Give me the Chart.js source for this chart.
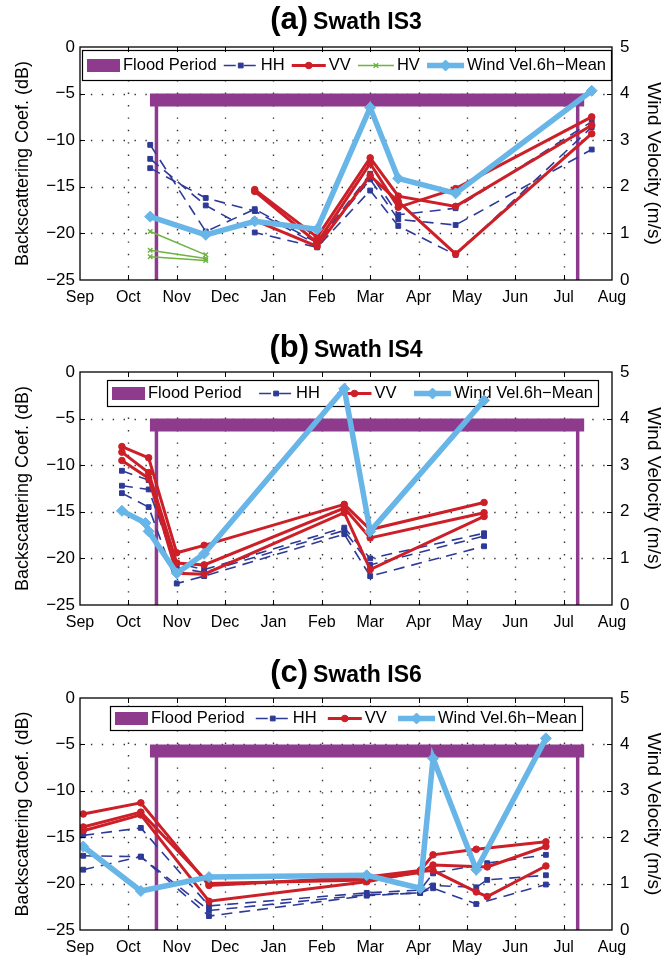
<!DOCTYPE html>
<html>
<head>
<meta charset="utf-8">
<script src="https://cdn.jsdelivr.net/npm/chart.js@4.4.1/dist/chart.umd.min.js"></script>
<style>
  html, body { margin: 0; padding: 0; background: #fff; }
  #wrap { position: relative; width: 668px; height: 958px; overflow: hidden; }
  canvas { position: absolute; left: 0; }
</style>
</head>
<body>
<div id="wrap">
  <canvas id="chartA" width="668" height="318" style="top:0px"></canvas>
  <canvas id="chartB" width="668" height="320" style="top:318px"></canvas>
  <canvas id="chartC" width="668" height="320" style="top:638px"></canvas>
</div>
<script>
// x axis: Sep 2008 .. Aug 2009, one unit per month
const months = ['Sep', 'Oct', 'Nov', 'Dec', 'Jan', 'Feb', 'Mar', 'Apr', 'May', 'Jun', 'Jul', 'Aug'];
const dbTicks = [-25, -20, -15, -10, -5, 0];
const windTicks = [0, 1, 2, 3, 4, 5];

// flood period, same in all three swaths
const floodDates = ['2008-10-19', '2009-07-10'];
const floodLevel = -5.7;

// ---- (a) Swath IS3 ----
const datesA = ['2008-10-15', '2008-11-19', '2008-12-20', '2009-01-29', '2009-03-01', '2009-03-19', '2009-04-24', '2009-07-19'];
const hhA = [
  [-10.5, -19.8, -17.4, -21.0, -13.6, -18.0, -17.3, -8.0],
  [-12.0, -17.0, -19.9, -21.5, -15.4, -19.2, -22.3, -8.6],
  [-13.0, -16.2, -17.6, -21.2, -14.2, -18.5, -19.1, -11.0]
];
const vvA = [
  [null, null, -15.3, -20.4, -11.9, -16.0, -17.1, -8.4],
  [null, null, -15.5, -21.0, -12.5, -17.2, -15.2, -7.5],
  [null, null, -18.6, -21.4, -13.8, -16.6, -22.2, -9.3]
];
const hvA = [
  [-19.8, -22.3, null, null, null, null, null, null],
  [-21.8, -22.7, null, null, null, null, null, null],
  [-22.5, -22.9, null, null, null, null, null, null]
];
const windA = [1.36, 0.97, 1.26, 1.09, 3.70, 2.18, 1.86, 4.06];

// ---- (b) Swath IS4 ----
const datesB = ['2008-09-27', '2008-10-12', '2008-10-14', '2008-11-01', '2008-11-18', '2009-02-14', '2009-03-01', '2009-05-12'];
const hhB = [
  [-10.6, null, -11.6, -20.5, -21.2, -16.7, -20.0, -17.3],
  [-12.2, null, -12.6, -21.0, -21.5, -17.0, -20.7, -17.6],
  [-13.0, null, -14.5, -22.7, -21.9, -17.4, -21.9, -18.7]
];
const vvB = [
  [-8.0, null, -9.2, -19.4, -18.6, -14.2, -16.9, -14.0],
  [-8.6, null, -10.8, -20.5, -20.7, -14.6, -17.8, -15.1],
  [-9.5, null, -11.4, -21.6, -21.7, -15.1, -21.2, -15.5]
];
const windB = [2.02, 1.76, 1.58, 0.68, 1.10, 4.64, 1.58, 4.39];

// ---- (c) Swath IS6 ----
const datesC = ['2008-09-03', '2008-10-09', '2008-11-21', '2009-02-27', '2009-04-02', '2009-04-10', '2009-05-07', '2009-05-14', '2009-06-20'];
const hhC = [
  [-14.8, -14.0, -22.4, -21.0, -20.7, -18.9, null, -17.8, -16.9],
  [-17.0, -17.1, -22.9, -21.2, -21.0, -20.2, -20.4, -19.6, -19.1],
  [-18.5, -17.1, -23.5, -21.3, -21.0, -20.5, -22.2, null, -20.1]
];
const vvC = [
  [-12.5, -11.3, -20.2, -19.3, -18.6, -16.9, -16.3, null, -15.5],
  [-13.9, -12.3, -20.0, -19.6, -18.8, -18.0, null, -18.2, -16.0],
  [-14.3, -12.6, -21.9, -19.8, -18.7, -18.6, -20.9, -21.4, -18.1]
];
const windC = [1.80, 0.84, 1.14, 1.18, 0.90, 3.70, 1.30, null, 4.13];

// colours
const PURPLE = '#8e3b8e';
const RED = '#cc1f27';
const BLUE = '#2e3a98';
const GREEN = '#6cb33f';
const SKY = '#68b5e8';

Chart.defaults.font.family = "'Liberation Sans', Arial, sans-serif";
Chart.defaults.color = '#000';

// date string -> position in months from 1 Sep
function monthPos(iso) {
  const [y, m, d] = iso.split('-').map(Number);
  const idx = (m - 9 + 12) % 12;
  const dim = new Date(Date.UTC(y, m, 0)).getUTCDate();
  return idx + (d - 1) / dim;
}

function series(dates, vals) {
  return dates.map((d, i) => ({ x: monthPos(d), y: vals[i] })).filter(p => p.y !== null);
}

const styles = {
  wind: { color: SKY, width: 5.5, dash: [], point: 'rectRot', radius: 5.5, order: 0, sample: 37 },
  vv: { color: RED, width: 3, dash: [], point: 'circle', radius: 3.3, order: 1, sample: 34 },
  hv: { color: GREEN, width: 1.5, dash: [], point: 'crossRot', radius: 3.2, order: 2, sample: 36 },
  hh: { color: BLUE, width: 1.6, dash: [11, 7], point: 'rect', radius: 3.4, order: 3, sample: 34 }
};

function lineDs(label, data, st, axis) {
  return {
    label, data,
    yAxisID: axis || 'y',
    borderColor: st.color,
    backgroundColor: st.color,
    borderWidth: st.width,
    borderDash: st.dash,
    pointStyle: st.point,
    pointRadius: st.radius,
    pointBorderWidth: st.point === 'crossRot' ? 1.4 : 1,
    pointBackgroundColor: st.color,
    pointBorderColor: st.color,
    spanGaps: true,
    tension: 0,
    order: st.order
  };
}

function buildDatasets(p) {
  const ds = [];
  ds.push(lineDs('Wind Vel.6h\u2212Mean', series(p.dates, p.wind), styles.wind, 'y1'));
  p.vv.forEach(v => ds.push(lineDs('VV', series(p.dates, v), styles.vv)));
  (p.hv || []).forEach(v => ds.push(lineDs('HV', series(p.dates, v), styles.hv)));
  p.hh.forEach(v => ds.push(lineDs('HH', series(p.dates, v), styles.hh)));
  const fs = monthPos(floodDates[0]);
  const fe = monthPos(floodDates[1]);
  ds.push({
    label: 'Flood Period',
    data: [{ x: fs, y: floodLevel }, { x: fe, y: floodLevel }],
    borderColor: PURPLE, borderWidth: 13, borderCapStyle: 'square',
    pointRadius: 0, order: 5
  });
  ds.push({
    label: 'flood edges',
    data: [{ x: fs, y: -25 }, { x: fs, y: floodLevel }, { x: fs, y: null }, { x: fe, y: floodLevel }, { x: fe, y: -25 }],
    borderColor: PURPLE, borderWidth: 3.5, spanGaps: false,
    pointRadius: 0, order: 5
  });
  return ds;
}

// dotted grid like the original figure
function drawGrid(chart) {
  const { ctx, chartArea: a, scales } = chart;
  ctx.save();
  ctx.strokeStyle = '#333';
  ctx.lineWidth = 1.4;
  ctx.setLineDash([1.4, 11]);
  ctx.beginPath();
  months.forEach((m, i) => {
    if (i === 0 || i === months.length - 1) return;
    const px = Math.round(scales.x.getPixelForValue(i)) + 0.5;
    ctx.moveTo(px, a.bottom);
    ctx.lineTo(px, a.top);
  });
  ctx.stroke();
  ctx.setLineDash([1.4, 9.5]);
  ctx.beginPath();
  dbTicks.forEach(v => {
    if (v === -25 || v === 0) return;
    const py = Math.round(scales.y.getPixelForValue(v)) + 0.5;
    ctx.moveTo(a.left, py);
    ctx.lineTo(a.right, py);
  });
  ctx.stroke();
  ctx.restore();
}

function drawLegend(ctx, box, items) {
  ctx.save();
  ctx.fillStyle = '#fff';
  ctx.fillRect(box.x, box.y, box.w, box.h);
  ctx.strokeStyle = '#000';
  ctx.lineWidth = 1.2;
  ctx.strokeRect(box.x + 0.5, box.y + 0.5, box.w, box.h);
  ctx.font = "16.5px 'Liberation Sans', Arial, sans-serif";
  ctx.textBaseline = 'middle';
  const inner = 3, pad = 5;
  let total = 0;
  items.forEach(it => {
    it.sw = it.patch ? 33 : styles[it.style].sample;
    it.tw = ctx.measureText(it.label).width;
    total += it.sw + inner + it.tw;
  });
  const gap = (box.w - 2 * pad - total) / (items.length - 1);
  const cy = box.y + box.h / 2 + 0.5;
  let x = box.x + pad;
  items.forEach(it => {
    if (it.patch) {
      ctx.fillStyle = PURPLE;
      ctx.fillRect(x, cy - 6.5, it.sw, 13);
    } else {
      const st = styles[it.style];
      ctx.strokeStyle = st.color;
      ctx.fillStyle = st.color;
      ctx.lineWidth = st.width;
      ctx.setLineDash(st.dash.length ? [12, 8] : []);
      ctx.beginPath();
      ctx.moveTo(x, cy);
      ctx.lineTo(x + it.sw, cy);
      ctx.stroke();
      ctx.setLineDash([]);
      ctx.lineWidth = st.point === 'crossRot' ? 1.4 : 1;
      Chart.helpers.drawPoint(ctx, { pointStyle: st.point, radius: st.radius, rotation: 0, borderWidth: 1 }, x + it.sw / 2, cy);
    }
    ctx.fillStyle = '#000';
    ctx.fillText(it.label, x + it.sw + inner, cy);
    x += it.sw + inner + it.tw + gap;
  });
  ctx.restore();
}

const decor = {
  id: 'decor',
  beforeDatasetsDraw(chart, args, opts) {
    drawGrid(chart);
    drawLegend(chart.ctx, opts.legendBox, opts.items);
  },
  afterDraw(chart, args, opts) {
    const { ctx, chartArea: a, scales } = chart;
    ctx.save();
    ctx.strokeStyle = '#000';
    ctx.lineWidth = 1;
    ctx.beginPath();
    months.forEach((m, i) => {
      if (i === 0 || i === months.length - 1) return;
      const px = Math.round(scales.x.getPixelForValue(i)) + 0.5;
      ctx.moveTo(px, a.bottom); ctx.lineTo(px, a.bottom - 5);
      ctx.moveTo(px, a.top); ctx.lineTo(px, a.top + 5);
    });
    dbTicks.forEach(v => {
      if (v === -25 || v === 0) return;
      const py = Math.round(scales.y.getPixelForValue(v)) + 0.5;
      ctx.moveTo(a.left, py); ctx.lineTo(a.left + 5, py);
    });
    windTicks.forEach(v => {
      if (v === 0 || v === 5) return;
      const py = Math.round(scales.y1.getPixelForValue(v)) + 0.5;
      ctx.moveTo(a.right, py); ctx.lineTo(a.right - 5, py);
    });
    ctx.stroke();
    ctx.lineWidth = 1.3;
    ctx.strokeRect(a.left, a.top, a.width, a.height);

    // panel title
    const cx = (a.left + a.right) / 2;
    const f1 = "bold 31px 'Liberation Sans', Arial, sans-serif";
    const f2 = "bold 23px 'Liberation Sans', Arial, sans-serif";
    ctx.font = f1;
    const w1 = ctx.measureText(opts.tag).width;
    ctx.font = f2;
    const w2 = ctx.measureText(opts.title).width;
    const x = cx - (w1 + 5 + w2) / 2;
    const base = opts.titleY + 9;
    ctx.fillStyle = '#000';
    ctx.textBaseline = 'alphabetic';
    ctx.textAlign = 'left';
    ctx.font = f1;
    ctx.fillText(opts.tag, x, base);
    ctx.font = f2;
    ctx.fillText(opts.title, x + w1 + 5, base);
    ctx.restore();
  }
};

function minus(v) {
  return v < 0 ? '\u2212' + Math.abs(v) : String(v);
}

function makePanel(id, p) {
  const canvas = document.getElementById(id);
  const H = canvas.height;
  return new Chart(canvas.getContext('2d'), {
    type: 'line',
    data: { datasets: buildDatasets(p) },
    plugins: [decor],
    options: {
      responsive: false,
      animation: false,
      devicePixelRatio: 1,
      layout: { padding: { top: p.top, left: 0, right: 0, bottom: 0 } },
      plugins: {
        legend: { display: false },
        tooltip: { enabled: false },
        decor: { legendBox: p.legendBox, items: p.items, tag: p.tag, title: p.title, titleY: p.titleY }
      },
      scales: {
        x: {
          type: 'linear', min: 0, max: 11,
          afterBuildTicks: s => { s.ticks = months.map((m, i) => ({ value: i })); },
          afterFit: s => { s.height = H - p.bottom; },
          ticks: { autoSkip: false, maxRotation: 0, padding: 8, font: { size: 16 }, callback: v => months[v] },
          grid: { display: false, drawTicks: false },
          border: { display: false }
        },
        y: {
          position: 'left', min: -25, max: 0,
          afterBuildTicks: s => { s.ticks = dbTicks.map(v => ({ value: v })); },
          afterFit: s => { s.width = 80; },
          ticks: { padding: 5, font: { size: 17 }, callback: minus },
          grid: { display: false, drawTicks: false },
          border: { display: false },
          title: { display: true, text: 'Backscattering Coef. (dB)', font: { size: 18 }, padding: { top: 12, bottom: 0 } }
        },
        y1: {
          position: 'right', min: 0, max: 5,
          afterBuildTicks: s => { s.ticks = windTicks.map(v => ({ value: v })); },
          afterFit: s => { s.width = 56; },
          ticks: { padding: 8, font: { size: 17 } },
          grid: { display: false, drawTicks: false },
          border: { display: false },
          title: { display: true, text: 'Wind Velocity (m/s)', font: { size: 19 }, padding: { top: 3, bottom: 0 } }
        }
      }
    }
  });
}

const legend5 = [
  { label: 'Flood Period', patch: true },
  { label: 'HH', style: 'hh' },
  { label: 'VV', style: 'vv' },
  { label: 'HV', style: 'hv' },
  { label: 'Wind Vel.6h\u2212Mean', style: 'wind' }
];
const legend4 = legend5.filter(it => it.label !== 'HV');

makePanel('chartA', {
  dates: datesA, hh: hhA, vv: vvA, hv: hvA, wind: windA,
  top: 47, bottom: 280, titleY: 20, tag: '(a)', title: 'Swath IS3',
  legendBox: { x: 82, y: 50, w: 529, h: 30 }, items: legend5
});
makePanel('chartB', {
  dates: datesB, hh: hhB, vv: vvB, wind: windB,
  top: 54, bottom: 287, titleY: 30, tag: '(b)', title: 'Swath IS4',
  legendBox: { x: 107, y: 62, w: 491, h: 26 }, items: legend4
});
makePanel('chartC', {
  dates: datesC, hh: hhC, vv: vvC, wind: windC,
  top: 60, bottom: 292, titleY: 35, tag: '(c)', title: 'Swath IS6',
  legendBox: { x: 110, y: 68, w: 472, h: 24 }, items: legend4
});
</script>
</body>
</html>
